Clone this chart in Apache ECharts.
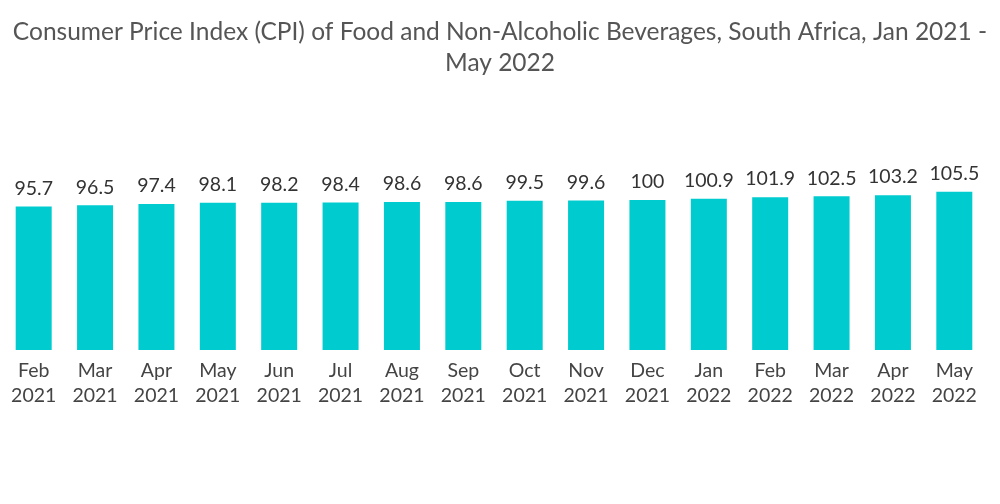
<!DOCTYPE html>
<html><head><meta charset="utf-8">
<script src="https://cdn.jsdelivr.net/npm/echarts@6/dist/echarts.min.js"></script>
<style>html,body{margin:0;padding:0;background:#fff}#c{width:1000px;height:504px}</style>
</head><body><div id="c"></div>
<script>
const categories = ["Feb\n2021","Mar\n2021","Apr\n2021","May\n2021","Jun\n2021","Jul\n2021","Aug\n2021","Sep\n2021","Oct\n2021","Nov\n2021","Dec\n2021","Jan\n2022","Feb\n2022","Mar\n2022","Apr\n2022","May\n2022"];
const cpiValues = [95.7,96.5,97.4,98.1,98.2,98.4,98.6,98.6,99.5,99.6,100,100.9,101.9,102.5,103.2,105.5];
const chart = echarts.init(document.getElementById('c'));
chart.setOption({
  animation:false,
  title:{text:"Consumer Price Index (CPI) of Food and Non-Alcoholic Beverages, South Africa, Jan 2021 -\nMay 2022",
    left:'center', top:12,
    textStyle:{fontFamily:'Lato',fontWeight:'normal',fontSize:24.5,color:'#555',lineHeight:31}},
  grid:{left:3,right:15,top:170,bottom:154},
  xAxis:{type:'category',data:categories,
    axisLine:{show:false},axisTick:{show:false},
    axisLabel:{fontFamily:'Lato',fontSize:19.5,color:'#444',lineHeight:25,margin:8,interval:0}},
  yAxis:{type:'value',min:0,max:120,show:false,splitLine:{show:false}},
  series:[{type:'bar',data:cpiValues,barWidth:36,
    itemStyle:{color:'#00CBCF'},
    label:{show:true,position:'top',distance:8,fontFamily:'Lato',fontSize:19.5,color:'#333'}}]
});
</script></body></html>
